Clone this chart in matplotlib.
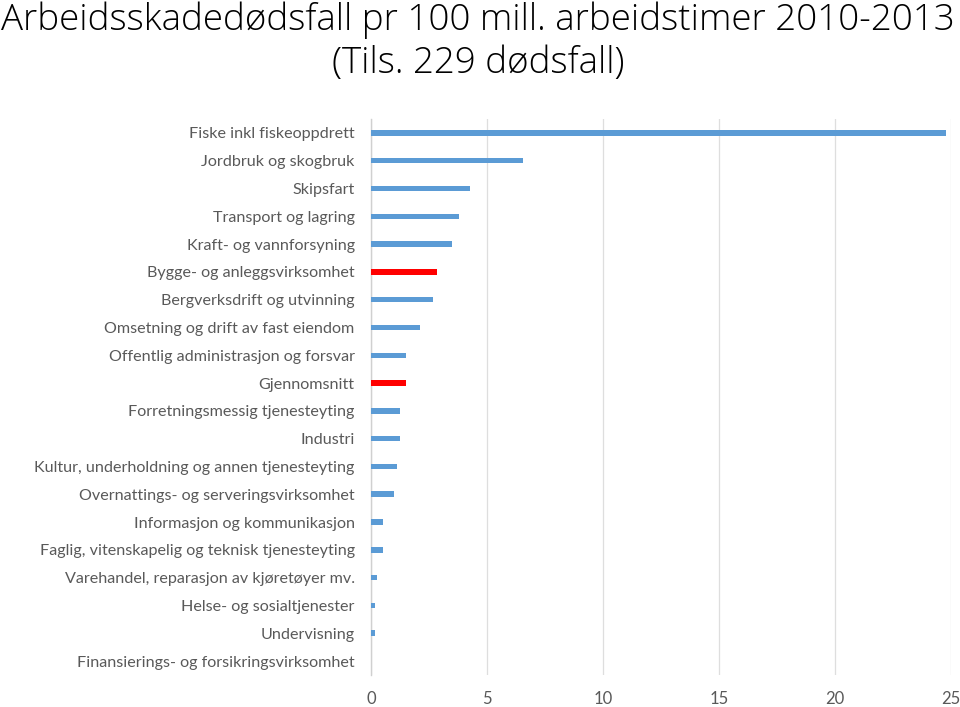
import matplotlib
matplotlib.use("Agg")
import matplotlib.pyplot as plt

categories = [
    "Fiske inkl fiskeoppdrett",
    "Jordbruk og skogbruk",
    "Skipsfart",
    "Transport og lagring",
    "Kraft- og vannforsyning",
    "Bygge- og anleggsvirksomhet",
    "Bergverksdrift og utvinning",
    "Omsetning og drift av fast eiendom",
    "Offentlig administrasjon og forsvar",
    "Gjennomsnitt",
    "Forretningsmessig tjenesteyting",
    "Industri",
    "Kultur, underholdning og annen tjenesteyting",
    "Overnattings- og serveringsvirksomhet",
    "Informasjon og kommunikasjon",
    "Faglig, vitenskapelig og teknisk tjenesteyting",
    "Varehandel, reparasjon av kjøretøyer mv.",
    "Helse- og sosialtjenester",
    "Undervisning",
    "Finansierings- og forsikringsvirksomhet",
]
values = [24.8, 6.55, 4.26, 3.76, 3.5, 2.85, 2.66, 2.09, 1.51, 1.51,
          1.22, 1.22, 1.11, 0.96, 0.52, 0.5, 0.23, 0.17, 0.17, 0.0]
highlight = ["Bygge- og anleggsvirksomhet", "Gjennomsnitt"]
xticks = [0, 5, 10, 15, 20, 25]
title = "Arbeidsskadedødsfall pr 100 mill. arbeidstimer 2010-2013\n(Tils. 229 dødsfall)"

blue = "#5b9bd5"
red = "#ff0000"
colors = [red if c in highlight else blue for c in categories]

fig = plt.figure(figsize=(9.6, 7.07), dpi=100)
ax = fig.add_axes([0.3868, 0.0453, 0.6038, 0.7864])

ypos = list(range(len(categories)))
ax.barh(ypos, values, height=0.2, color=colors, zorder=3)
ax.set_ylim(len(categories) - 0.5, -0.5)
ax.set_xlim(0, 25)
ax.set_yticks(ypos)
ax.set_yticklabels(categories, fontsize=11.6, color="#595959", family=["Lato", "DejaVu Sans"])
ax.set_xticks(xticks)
ax.set_xticklabels([str(t) for t in xticks], fontsize=12, color="#595959", family=["Lato", "DejaVu Sans"])
ax.tick_params(axis="both", length=0)
ax.tick_params(axis="x", pad=11.5)
ax.tick_params(axis="y", pad=12)
ax.grid(axis="x", color="#dedede", linewidth=0.9, zorder=0)
for s in ["top", "right", "bottom"]:
    ax.spines[s].set_visible(False)
ax.spines["left"].set_color("#d0d0d0")
ax.spines["left"].set_linewidth(1)

fig.text(0.498, 0.998, title, ha="center", va="top", fontsize=26.5, color="#000000",
         family=["Open Sans", "DejaVu Sans"], fontweight="light", linespacing=1.2)

fig.savefig("out.png", dpi=100)
